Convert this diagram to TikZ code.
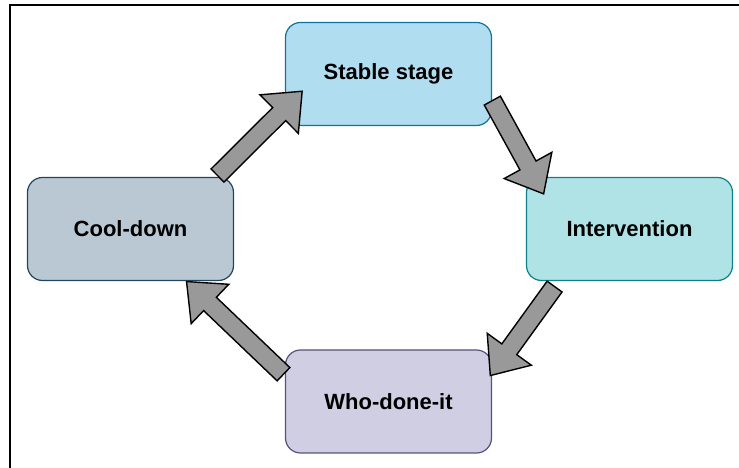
\documentclass[tikz,border=0pt]{standalone}
\usepackage{fontspec}
\setmainfont{Liberation Sans}
\usepackage{tikz}
\usetikzlibrary{calc}
\usetikzlibrary{shapes.arrows}
\definecolor{stableColor}{HTML}{B1DDF0}
\definecolor{stableLine}{HTML}{10739E}
\definecolor{interColor}{HTML}{B0E3E6}
\definecolor{interLine}{HTML}{0E8088}
\definecolor{whoColor}{HTML}{D0CEE2}
\definecolor{whoLine}{HTML}{56517E}
\definecolor{coolColor}{HTML}{BAC8D3}
\definecolor{coolLine}{HTML}{23445D}
\definecolor{flowColor}{HTML}{999999}
\begin{document}
\begin{tikzpicture}[x=1pt, y=1pt,
    stage/.style={draw, rounded corners=15pt, minimum width=206pt, minimum height=103pt, line width=1.2pt, font=\fontsize{22}{26}\selectfont\bfseries},
    flow/.style={single arrow, draw, fill=flowColor, line width=1.4pt, inner sep=8.5pt, minimum width=53pt, single arrow head extend=18pt, single arrow tip angle=80, single arrow head indent=0pt}]
          \useasboundingbox (0,0) rectangle (739,468);
          \draw[line width=2pt] (10,0) -- (10,463) -- (739,463);
          \node[stage, fill=stableColor, draw=stableLine] (stable) at (388.5,394) {Stable stage};
          \node[stage, fill=interColor, draw=interLine] (inter) at (629.5,239) {Intervention};
          \node[stage, fill=whoColor, draw=whoLine] (who) at (388.5,66.5) {Who-done-it};
          \node[stage, fill=coolColor, draw=coolLine] (cool) at (130.5,239) {Cool-down};
          \coordinate (coolOut) at (217,292);
          \coordinate (stableIn) at (301.7,376.3);
          \coordinate (stableOut) at (492,368);
          \coordinate (interIn) at (543.3,274.7);
          \coordinate (interOut) at (555,182);
          \coordinate (whoIn) at (490.7,93);
          \coordinate (whoOut) at (284,93.3);
          \coordinate (coolIn) at (187,186);
          \path let \p1=($(stableIn)-(coolOut)$), \n1={atan2(\y1,\x1)}, \n2={veclen(\x1,\y1)} in node[flow, anchor=tail, rotate=\n1, minimum height=\n2] (toStable) at (coolOut) {};
          \path let \p1=($(interIn)-(stableOut)$), \n1={atan2(\y1,\x1)}, \n2={veclen(\x1,\y1)} in node[flow, anchor=tail, rotate=\n1, minimum height=\n2] (toInter) at (stableOut) {};
          \path let \p1=($(whoIn)-(interOut)$), \n1={atan2(\y1,\x1)}, \n2={veclen(\x1,\y1)} in node[flow, anchor=tail, rotate=\n1, minimum height=\n2] (toWho) at (interOut) {};
          \path let \p1=($(coolIn)-(whoOut)$), \n1={atan2(\y1,\x1)}, \n2={veclen(\x1,\y1)} in node[flow, anchor=tail, rotate=\n1, minimum height=\n2] (toCool) at (whoOut) {};
        \end{tikzpicture}
\end{document}
